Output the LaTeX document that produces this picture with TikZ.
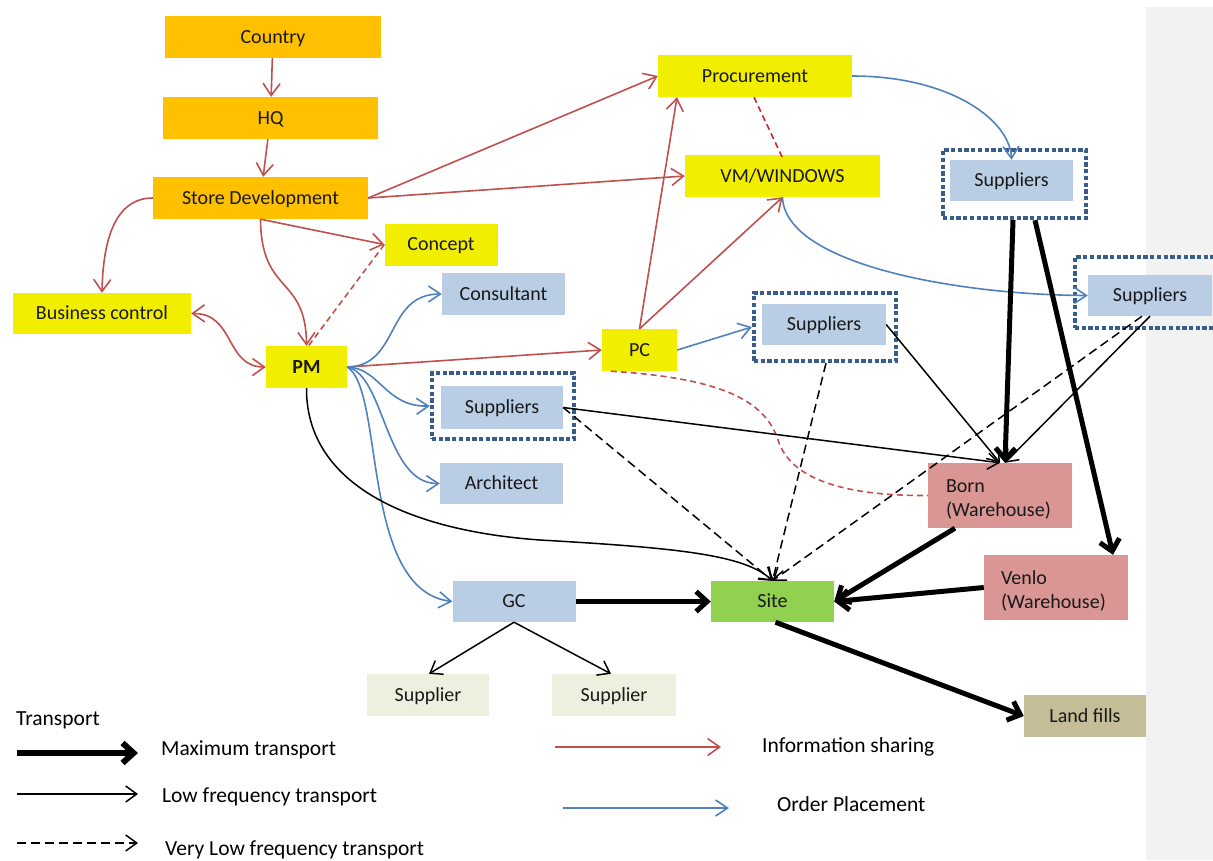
\documentclass[tikz,border=0pt]{standalone}
\usepackage{fontspec}
\setmainfont{Carlito}
\usetikzlibrary{arrows.meta}
\definecolor{cOrange}{RGB}{255,192,0}
\definecolor{cYellow}{RGB}{242,238,0}
\definecolor{cLBlue}{RGB}{185,205,229}
\definecolor{cDot}{RGB}{56,93,138}
\definecolor{cPink}{RGB}{218,150,148}
\definecolor{cGreen}{RGB}{146,208,80}
\definecolor{cTan}{RGB}{196,189,151}
\definecolor{cPale}{RGB}{235,241,222}
\definecolor{cGray}{RGB}{242,242,242}
\definecolor{cRed}{RGB}{192,80,77}
\definecolor{cDRed}{RGB}{200,30,40}
\definecolor{cBlue}{RGB}{79,129,189}
\newcommand\nfont{\fontsize{20}{24}\selectfont}
\newcommand\lfont{\fontsize{21.5}{26}\selectfont}
\tikzset{
  base/.style={rectangle, inner sep=0pt, font=\nfont, text=black!90, text height=16.5pt, text depth=4pt},
  obox/.style={base, fill=cOrange},
  ybox/.style={base, fill=cYellow},
  bbox/.style={base, fill=cLBlue},
  pbox/.style={rectangle, font=\nfont, text=black!90, fill=cPink, align=left, inner ysep=0pt, inner xsep=18pt, text width=108pt},
  dotbox/.style={rectangle, inner sep=0pt, draw=cDot, line width=4.3pt, dash pattern=on 4.3pt off 2.4pt},
  info/.style={cRed, line width=1.6pt, -{Straight Barb[length=12pt,width=17pt]}},
  infod/.style={cDRed!80!cRed, line width=1.6pt, dash pattern=on 6pt off 4pt},
  order/.style={cBlue, line width=1.6pt, -{Straight Barb[length=12pt,width=16pt]}},
  lowt/.style={black, line width=1.5pt, -{Straight Barb[length=11pt,width=16pt]}},
  vlowt/.style={black, line width=1.5pt, dash pattern=on 9pt off 5pt, -{Straight Barb[length=11pt,width=16pt]}},
  maxt/.style={black, line width=5pt, -{Straight Barb[length=11pt,width=20pt]}},
  leg/.style={anchor=west, inner sep=0pt, font=\lfont}
}
\begin{document}
\begin{tikzpicture}[x=1pt,y=-1pt]
\useasboundingbox (0,0) rectangle (1213,860);
\clip (0,0) rectangle (1213,860);
\fill[cGray] (1146,7) rectangle (1213,860);

% nodes
\node[obox, minimum width=216pt, minimum height=42pt] (country) at (273,37) {Country};
\node[obox, minimum width=215pt, minimum height=42pt] (hq) at (270.5,118) {HQ};
\node[obox, minimum width=215pt, minimum height=42pt] (sd) at (260.5,198) {Store Development};
\node[ybox, minimum width=113pt, minimum height=42pt] (concept) at (441,244.5) {Concept};
\node[ybox, minimum width=178pt, minimum height=41pt] (bc) at (102,313.5) {Business control};
\node[ybox, minimum width=81pt, minimum height=42pt, font=\nfont\bfseries] (pm) at (306.5,367) {PM};
\node[bbox, minimum width=123pt, minimum height=42pt] (consultant) at (503.5,294) {Consultant};
\node[dotbox, minimum width=142pt, minimum height=66pt] (supLo) at (503,406) {};
\node[bbox, minimum width=122pt, minimum height=43pt] (supLi) at (502,407.5) {Suppliers};
\node[bbox, minimum width=123pt, minimum height=41pt] (architect) at (501.5,483.5) {Architect};
\node[bbox, minimum width=123pt, minimum height=41pt] (gc) at (514,601.5) {GC};
\node[base, fill=cGreen, minimum width=123pt, minimum height=41pt] (site) at (772.5,601.5) {Site};
\node[base, fill=cPale, minimum width=122pt, minimum height=42pt] (sup1) at (428,695) {Supplier};
\node[base, fill=cPale, minimum width=124pt, minimum height=42pt] (sup2) at (614,695) {Supplier};
\node[base, fill=cTan, minimum width=122pt, minimum height=42pt] (land) at (1085,716) {Land fills};
\node[ybox, minimum width=194pt, minimum height=42pt] (proc) at (755,76) {Procurement};
\node[ybox, minimum width=195pt, minimum height=42pt] (vm) at (782.5,176) {VM/WINDOWS};
\node[ybox, minimum width=75pt, minimum height=42pt] (pc) at (639.5,350) {PC};
\node[dotbox, minimum width=142pt, minimum height=68pt] (supMo) at (825,327) {};
\node[bbox, minimum width=124pt, minimum height=41pt] (supMi) at (824,324.5) {Suppliers};
\node[dotbox, minimum width=143pt, minimum height=68pt] (supTRo) at (1014.5,184) {};
\node[bbox, minimum width=123pt, minimum height=41pt] (supTRi) at (1011.5,180.5) {Suppliers};
\node[dotbox, minimum width=165pt, minimum height=71pt] (supRo) at (1157.5,292.5) {};
\node[bbox, minimum width=124pt, minimum height=41pt] (supRi) at (1150,295.5) {Suppliers};
\node[pbox, minimum height=65pt] (born) at (1000,495.5) {\rule{0pt}{20pt}Born\\(Warehouse)};
\node[pbox, inner xsep=17pt, text width=110pt, minimum height=65pt] (venlo) at (1056,587.5) {\rule{0pt}{20pt}Venlo\\(Warehouse)};

% information sharing (red)
\draw[info] (country) -- (hq);
\draw[info] (hq) -- (sd);
\draw[info] (sd.west) .. controls (115,198) and (103,240) .. (bc.north);
\draw[info] (sd.south) .. controls (261,295) and (306,275) .. (pm.north);
\draw[info] (sd.south) -- (concept.west);
\draw[infod, cRed] (concept.west) -- ([xshift=2pt]pm.north);
\draw[info, {Straight Barb[length=12pt,width=17pt]}-{Straight Barb[length=12pt,width=17pt]}] (bc.east) .. controls (235,313) and (225,367) .. (pm.west);
\draw[info] (sd.east) -- (proc.west);
\draw[info] (sd.east) -- (vm.west);
\draw[info] (pm.east) -- (pc.west);
\draw[info] (pc.north) -- ([xshift=-78pt]proc.south);
\draw[info] (pc.north) -- (vm.south);
\draw[infod] ([xshift=-1pt]proc.south) -- ([yshift=-3pt]vm.north);
\draw[infod, cRed] ([xshift=9pt]pc.south west) .. controls (720,378) and (765,400) .. (778,440) .. controls (792,485) and (860,496) .. (born.west);

% order placement (blue)
\draw[order] (proc.east) .. controls (950,76) and (1010,120) .. (supTRi.north);
\draw[order] (vm.south) .. controls (785,265) and (960,295) .. (supRi.west);
\draw[order] (pm.east) .. controls (400,366) and (385,294) .. (consultant.west);
\draw[order] (pm.east) .. controls (380,368) and (385,407) .. (supLo.west);
\draw[order] (pm.east) .. controls (385,375) and (385,484) .. (architect.west);
\draw[order] (pm.east) .. controls (385,390) and (360,590) .. (gc.west);
\draw[order] (pc.east) -- (supMo.west);

% maximum transport
\draw[maxt] (gc.east) -- (site.west);
\draw[maxt] ([xshift=-45pt]born.south) -- (site.east);
\draw[maxt] (venlo.west) -- (site.east);
\draw[maxt] ([xshift=3pt]site.south) -- (land.west);
\draw[maxt] ([xshift=-1.5pt]supTRo.south) -- ([xshift=5pt]born.north);
\draw[maxt] ([xshift=20.5pt]supTRo.south) -- ([xshift=57pt]venlo.north);

% low frequency transport
\draw[lowt] (pm.south) .. controls (306,480) and (400,530) .. (540,540) .. controls (680,548) and (745,555) .. (site.north);
\draw[lowt] (supLi.east) -- (born.north);
\draw[lowt] (supMi.east) -- (born.north);
\draw[lowt] (supRi.south) -- ([xshift=5pt]born.north);
\draw[lowt] (gc.south) -- ([xshift=1pt]sup1.north);
\draw[lowt] (gc.south) -- ([xshift=-3pt]sup2.north);

% very low frequency transport
\draw[vlowt] (supLi.east) -- (site.north);
\draw[vlowt] ([xshift=1pt]supMo.south) -- (site.north);
\draw[vlowt] ([xshift=-8pt]supRi.south) -- (site.north);

% legend
\node[leg] (lt) at (16,720) {Transport};
\coordinate (m1) at (17,753); \coordinate (m2) at (138,753);
\draw[maxt, line width=6pt] (m1) -- (m2);
\node[leg] (lmt) at (161,750) {Maximum transport};
\coordinate (l1) at (17,794); \coordinate (l2) at (138,794);
\draw[lowt] (l1) -- (l2);
\node[leg] (llt) at (162,797) {Low frequency transport};
\coordinate (v1) at (17,843); \coordinate (v2) at (138,843);
\draw[vlowt] (v1) -- (v2);
\node[leg] (lvt) at (165,850) {Very Low frequency transport};
\coordinate (i1) at (555,747); \coordinate (i2) at (721,747);
\draw[info] (i1) -- (i2);
\node[leg] (lis) at (762,747) {Information sharing};
\coordinate (o1) at (563,808); \coordinate (o2) at (729,808);
\draw[order] (o1) -- (o2);
\node[leg] (lop) at (777,804) {Order Placement};
\end{tikzpicture}
\end{document}
